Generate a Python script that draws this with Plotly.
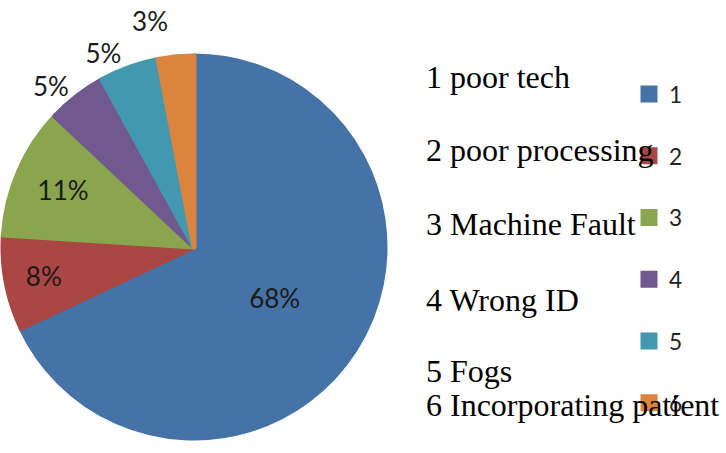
import plotly.graph_objects as go

categories = ["1", "2", "3", "4", "5", "6"]
values = [68, 8, 11, 5, 5, 3]
descriptions = ["1 poor tech", "2 poor processing", "3 Machine Fault",
                "4 Wrong ID", "5 Fogs", "6 Incorporating patient"]
colors = ["#4572A7", "#AA4643", "#89A54E", "#71588F", "#4198AF", "#DB843D"]
text_positions = ["inside", "inside", "inside", "outside", "outside", "outside"]

W, H = 726, 453
cx, cy, r = 194, 247, 191

fig = go.Figure()
fig.add_trace(go.Pie(
    labels=[c + "<br>\u00a0" for c in categories],
    values=values,
    sort=False,
    direction="clockwise",
    rotation=0,
    textinfo="percent",
    textposition=text_positions,
    insidetextorientation="horizontal",
    textfont=dict(family="Lato", size=26, color="#1a1a1a"),
    marker=dict(colors=colors, line=dict(color=colors, width=5)),
    domain=dict(x=[(cx - r) / W, (cx + r) / W], y=[(H - cy - r) / H, (H - cy + r) / H]),
    hoverinfo="label+percent",
))

desc_y = [77, 150, 224, 300, 371, 405]
for d, y in zip(descriptions, desc_y):
    fig.add_annotation(text=d, x=424 / W, y=1 - y / H, xref="paper", yref="paper",
                       xanchor="left", yanchor="middle", showarrow=False,
                       font=dict(family="Liberation Serif", size=32, color="black"))

fig.update_layout(
    width=W, height=H,
    margin=dict(l=0, r=0, t=0, b=0, autoexpand=False),
    paper_bgcolor="white", plot_bgcolor="white",
    showlegend=True,
    legend=dict(x=629 / W, y=1 - 72.8 / H, xanchor="left", yanchor="top",
                valign="top", font=dict(family="Lato", size=22.6, color="#222"),
                bgcolor="rgba(0,0,0,0)"),
)

post = ("document.body.style.margin='0';"
        "document.querySelectorAll('path.textline').forEach(function(e){e.style.display='none';});")
fig.write_html("out.html", post_script=post, config={"displayModeBar": False})
